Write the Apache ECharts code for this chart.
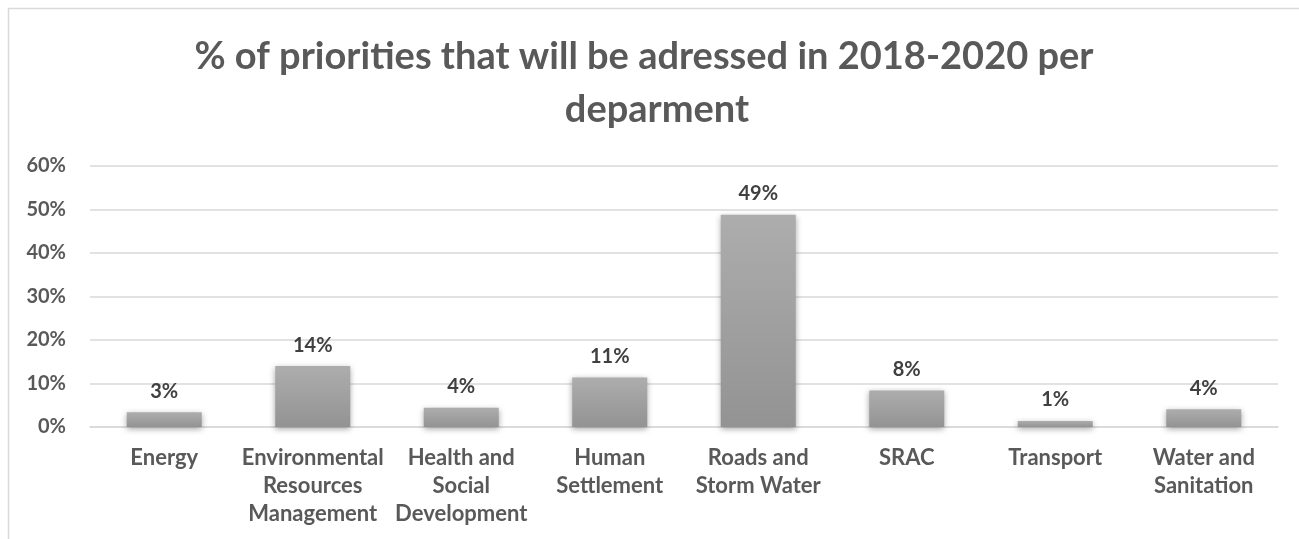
<!DOCTYPE html>
<html>
<head>
<meta charset="utf-8">
<script src="https://cdn.jsdelivr.net/npm/echarts@6/dist/echarts.min.js"></script>
<style>
html,body{margin:0;padding:0;background:#fff;}
#main{width:1299px;height:539px;}
</style>
</head>
<body>
<div id="main"></div>
<script>
const titleLines = ["% of priorities that will be adressed in 2018-2020 per", "deparment"];
const categories = ["Energy", "Environmental\nResources\nManagement", "Health and\nSocial\nDevelopment", "Human\nSettlement", "Roads and\nStorm Water", "SRAC", "Transport", "Water and\nSanitation"];
const values = [3.4, 14.0, 4.4, 11.4, 48.8, 8.4, 1.4, 4.1];
const yTicks = [0, 10, 20, 30, 40, 50, 60];

const FONT = "Lato";
const titleStyle = {fontFamily: FONT, fontWeight: 'bold', fontSize: 38, color: '#595959', lineHeight: 52};
const chart = echarts.init(document.getElementById('main'), null, {renderer: 'canvas'});
chart.setOption({
  backgroundColor: '#ffffff',
  animation: false,
  title: [
    {text: titleLines[0], left: 639, top: 26, textAlign: 'center', textStyle: titleStyle},
    {text: titleLines[1], left: 652, top: 79, textAlign: 'center', textStyle: titleStyle}
  ],
  graphic: [{
    type: 'rect',
    shape: {x: 8.5, y: 8.5, width: 1300, height: 540},
    style: {fill: 'none', stroke: '#d9d9d9', lineWidth: 1.5},
    silent: true
  }],
  grid: {left: 90, right: 21, top: 166, bottom: 112, containLabel: false},
  xAxis: {
    type: 'category',
    data: categories,
    axisLine: {show: true, lineStyle: {color: '#d9d9d9', width: 1.5}},
    axisTick: {show: false},
    axisLabel: {interval: 0, margin: 17, fontFamily: FONT, fontWeight: 'bold', fontSize: 22, color: '#595959', lineHeight: 28, align: 'center'}
  },
  yAxis: {
    type: 'value',
    min: yTicks[0],
    max: yTicks[yTicks.length - 1],
    interval: 10,
    axisLine: {show: false},
    axisTick: {show: false},
    splitLine: {lineStyle: {color: '#d9d9d9', width: 1.5}},
    axisLabel: {margin: 24, fontFamily: FONT, fontWeight: 'bold', fontSize: 20, color: '#595959', formatter: v => v + '%'}
  },
  series: [{
    type: 'bar',
    data: values,
    barWidth: 75,
    itemStyle: {
      color: new echarts.graphic.LinearGradient(0, 0, 0, 1, [
        {offset: 0, color: '#adadad'},
        {offset: 1, color: '#939393'}
      ]),
      shadowColor: 'rgba(0,0,0,0.35)',
      shadowBlur: 6,
      shadowOffsetY: 2
    },
    label: {
      show: true,
      position: 'top',
      distance: 11,
      fontFamily: FONT,
      fontWeight: 'bold',
      fontSize: 20,
      color: '#404040',
      formatter: p => Math.round(p.value) + '%'
    }
  }]
});
</script>
</body>
</html>
